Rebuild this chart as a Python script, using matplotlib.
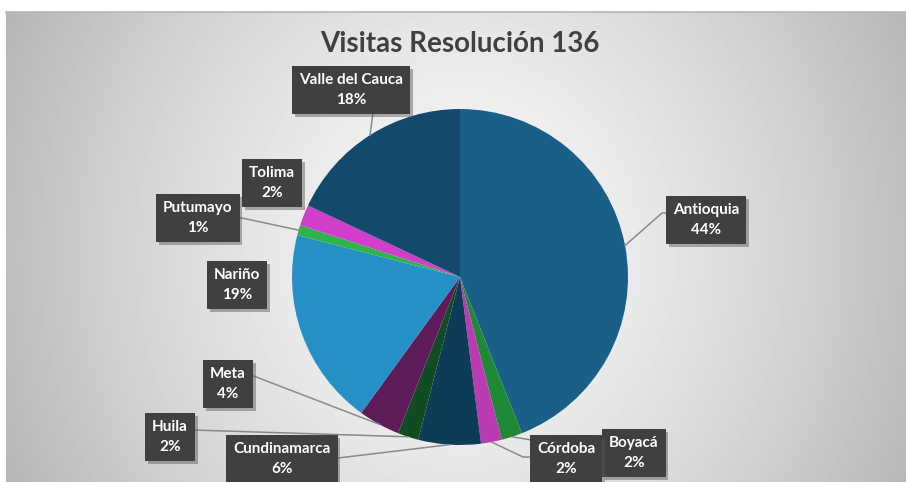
import numpy as np
import matplotlib
matplotlib.use("Agg")
import matplotlib.pyplot as plt
import matplotlib.patheffects as pe

# datos del gráfico
departamentos = ["Antioquia", "Boyacá", "Córdoba", "Cundinamarca", "Huila",
                 "Meta", "Nariño", "Putumayo", "Tolima", "Valle del Cauca"]
porcentajes = [44, 2, 2, 6, 2, 4, 19, 1, 2, 18]
colores = ["#1a5f87", "#1f8a36", "#bb3bb2", "#0c3c58", "#0f4c22",
           "#5e1b5a", "#2490c6", "#2fb34a", "#d03fca", "#134a6b"]
titulo = "Visitas Resolución 136"

# posición de las etiquetas (pixeles, y desde arriba) y codo de la línea guía
pos_etiquetas = [(706, 220), (634, 453), (566, 459), (282, 459), (170, 437),
                 (228, 384), (237, 285), (198, 218), (272, 183), (351, 90)]
codos = [[(662, 213), (667, 213)], [(604, 452)], [(523, 457), (531, 457)],
         [(338, 458)], [(193, 430)], [(251, 375)], None, [(237, 217)], None,
         [(373, 113)]]

W, H = 906, 482
fuente = ["Liberation Sans Narrow", "Lato", "DejaVu Sans"]

fig = plt.figure(figsize=(W / 100, H / 100), dpi=100)
fig.patch.set_facecolor("white")

# fondo con degradado radial
fondo = fig.add_axes([6 / W, 0, 1 - 6 / W, (H - 12) / H])
yy, xx = np.mgrid[0:470, 0:900]
d = np.sqrt(((xx - 454) / 470.0) ** 2 + ((yy - 240) / 520.0) ** 2)
gris = np.clip(0.975 - 0.24 * d ** 1.4, 0, 1)
fondo.imshow(gris, cmap="gray", vmin=0, vmax=1, aspect="auto")
fondo.axis("off")

ax = fig.add_axes([0, 0, 1, 1])
ax.patch.set_alpha(0)
cx, cy, r = 460, H - 277, 168
cunas, _ = ax.pie(porcentajes, colors=colores, startangle=90, counterclock=False,
                  center=(cx, cy), radius=r, wedgeprops=dict(linewidth=0))
ax.set_xlim(0, W)
ax.set_ylim(0, H)
ax.axis("off")

ax.plot([6, W], [H - 12, H - 12], color="#b5b5b5", lw=1.2)

for cuna, nombre, p, pos, codo in zip(cunas, departamentos, porcentajes,
                                       pos_etiquetas, codos):
    if codo is not None:
        ang = np.deg2rad((cuna.theta1 + cuna.theta2) / 2)
        px = [cx + r * np.cos(ang)] + [c[0] for c in codo]
        py = [cy + r * np.sin(ang)] + [H - c[1] for c in codo]
        ax.plot(px, py, color="#8a8a8a", lw=1.1, zorder=3)
    t = ax.text(pos[0], H - pos[1], f"{nombre}\n{p}%", ha="center", va="center",
                color="white", fontsize=11, fontweight="bold", family=fuente,
                linespacing=1.55, zorder=5,
                bbox=dict(boxstyle="square,pad=0.45", facecolor="#404040",
                          edgecolor="none"))
    t.get_bbox_patch().set_path_effects([
        pe.SimplePatchShadow(offset=(2, -2), shadow_rgbFace="#555555", alpha=0.45),
        pe.Normal()])

ax.text(460, H - 44, titulo, ha="center", va="center", fontsize=20,
        fontweight="bold", color="#404040", family=fuente)

fig.savefig("out.png", dpi=100)
